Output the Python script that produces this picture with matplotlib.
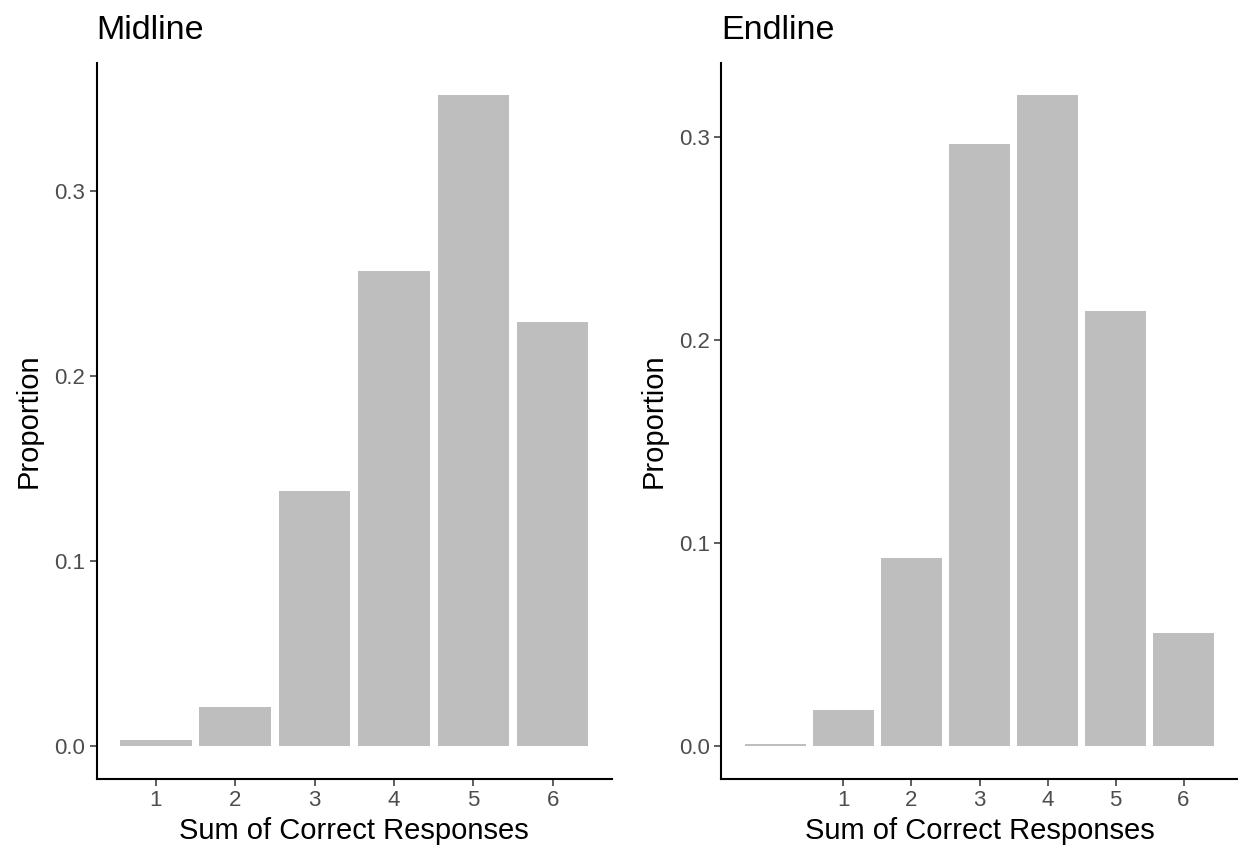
import matplotlib
matplotlib.use("Agg")
import matplotlib.pyplot as plt
from matplotlib.ticker import FormatStrFormatter

# proportions of the sum of correct responses
midline_scores = [1, 2, 3, 4, 5, 6]
midline_prop = [0.0036, 0.0214, 0.138, 0.2567, 0.3517, 0.2292]

endline_scores = [0, 1, 2, 3, 4, 5, 6]
endline_prop = [0.0013, 0.0176, 0.0928, 0.2965, 0.3206, 0.2143, 0.0559]

tick_labels = [1, 2, 3, 4, 5, 6]
y_ticks = [0.0, 0.1, 0.2, 0.3]

plt.rcParams['font.family'] = ['Liberation Sans', 'DejaVu Sans']

fig = plt.figure(figsize=(12.38, 8.55), dpi=100)
ax_mid = fig.add_axes([0.0781, 0.0892, 0.416, 0.8375])
ax_end = fig.add_axes([0.5827, 0.0892, 0.417, 0.8375])


def draw_panel(ax, scores, props, title):
    ax.bar(scores, props, width=0.9, color='#BEBEBE', edgecolor='none')
    lo, hi = min(scores) - 0.45, max(scores) + 0.45
    pad = (hi - lo) * 0.05
    ax.set_xlim(lo - pad, hi + pad)
    top = max(props)
    ax.set_ylim(-top * 0.05, top * 1.05)
    ax.set_xticks(tick_labels)
    ax.set_yticks(y_ticks)
    ax.yaxis.set_major_formatter(FormatStrFormatter('%.1f'))
    ax.tick_params(axis='both', length=4.75, width=1.1, color='#333333',
                   labelcolor='#4D4D4D', labelsize=16, pad=3.5)
    for side in ['top', 'right']:
        ax.spines[side].set_visible(False)
    for side in ['left', 'bottom']:
        ax.spines[side].set_linewidth(1.5)
        ax.spines[side].set_color('black')
    ax.set_xlabel('Sum of Correct Responses', fontsize=21, labelpad=4)
    ax.set_ylabel('Proportion', fontsize=21, labelpad=8)
    ax.set_title(title, loc='left', fontsize=24.5, pad=17)


draw_panel(ax_mid, midline_scores, midline_prop, 'Midline')
draw_panel(ax_end, endline_scores, endline_prop, 'Endline')

fig.savefig('out.png', dpi=100)
